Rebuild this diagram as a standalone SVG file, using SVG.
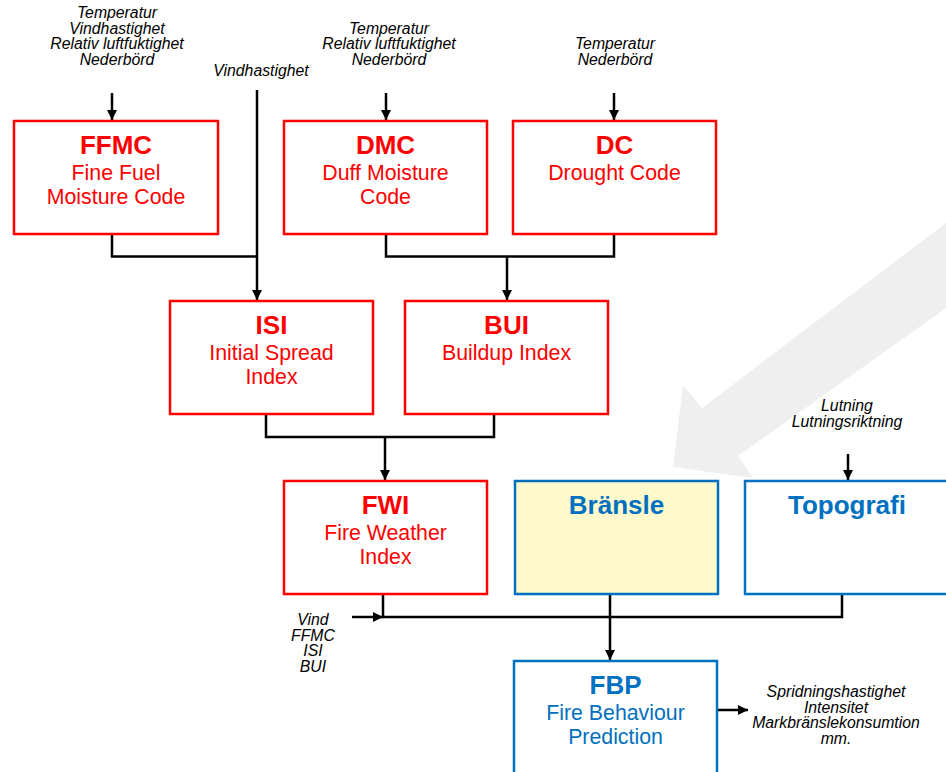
<svg xmlns="http://www.w3.org/2000/svg" width="946" height="772" viewBox="0 0 946 772">
<defs>
<marker id="ah" viewBox="0 0 10 10" refX="10" refY="5" markerWidth="10" markerHeight="10" markerUnits="userSpaceOnUse" orient="auto">
<path d="M0,0 L10,5 L0,10 Z" fill="#000"/>
</marker>
</defs>
<style>
.rb{fill:#fff;stroke:#FF0000;stroke-width:2.5}
.bb{fill:#fff;stroke:#0070C0;stroke-width:2.5}
.yb{fill:#FFF9CC;stroke:#0070C0;stroke-width:2.5}
.rt{font-family:"Liberation Sans",Arial,sans-serif;font-weight:bold;font-size:26px;fill:#FF0000;text-anchor:middle}
.rs{font-family:"Liberation Sans",Arial,sans-serif;font-size:21.3px;fill:#FF0000;text-anchor:middle}
.bt{font-family:"Liberation Sans",Arial,sans-serif;font-weight:bold;font-size:26px;fill:#0070C0;text-anchor:middle}
.bs{font-family:"Liberation Sans",Arial,sans-serif;font-size:21.3px;fill:#0070C0;text-anchor:middle}
.lb{font-family:"Liberation Sans",Arial,sans-serif;font-style:italic;font-size:15.8px;fill:#000;text-anchor:middle}
.c{fill:none;stroke:#000;stroke-width:2.5}
</style>
<rect width="946" height="772" fill="#fff"/>
<polygon id="bigarrow" points="946,223 702,408 683,385 673,467 753,478 738,456 946,308" fill="#EFEFEF"/>
<g id="labels">
<text class="lb"><tspan x="117" y="18">Temperatur</tspan><tspan x="117" y="33.5">Vindhastighet</tspan><tspan x="117" y="49">Relativ luftfuktighet</tspan><tspan x="117" y="64.5">Nederbörd</tspan></text>
<text class="lb" x="261" y="76">Vindhastighet</text>
<text class="lb"><tspan x="389" y="33.5">Temperatur</tspan><tspan x="389" y="49">Relativ luftfuktighet</tspan><tspan x="389" y="64.5">Nederbörd</tspan></text>
<text class="lb"><tspan x="615" y="49">Temperatur</tspan><tspan x="615" y="64.5">Nederbörd</tspan></text>
<text class="lb"><tspan x="847" y="411">Lutning</tspan><tspan x="847" y="426.5">Lutningsriktning</tspan></text>
<text class="lb"><tspan x="313" y="625">Vind</tspan><tspan x="313" y="640.5">FFMC</tspan><tspan x="313" y="656">ISI</tspan><tspan x="313" y="671.5">BUI</tspan></text>
<text class="lb"><tspan x="836" y="697">Spridningshastighet</tspan><tspan x="836" y="712.5">Intensitet</tspan><tspan x="836" y="728">Markbränslekonsumtion</tspan><tspan x="836" y="743.5">mm.</tspan></text>
</g>
<g id="connectors">
<line class="c" x1="112" y1="93" x2="112" y2="120" marker-end="url(#ah)"/>
<line class="c" x1="386" y1="93" x2="386" y2="120" marker-end="url(#ah)"/>
<line class="c" x1="614" y1="93" x2="614" y2="120" marker-end="url(#ah)"/>
<line class="c" x1="257" y1="90" x2="257" y2="300" marker-end="url(#ah)"/>
<polyline class="c" points="112,235 112,256.5 257,256.5"/>
<polyline class="c" points="386,235 386,256.5 614,256.5 614,235"/>
<line class="c" x1="507" y1="256.5" x2="507" y2="300" marker-end="url(#ah)"/>
<polyline class="c" points="266,415 266,437 494,437 494,415"/>
<line class="c" x1="385" y1="437" x2="385" y2="480" marker-end="url(#ah)"/>
<polyline class="c" points="383,595 383,617 842,617 842,595"/>
<line class="c" x1="352" y1="617" x2="383" y2="617" marker-end="url(#ah)"/>
<line class="c" x1="610" y1="595" x2="610" y2="660" marker-end="url(#ah)"/>
<line class="c" x1="717" y1="710" x2="748" y2="710" marker-end="url(#ah)"/>
<line class="c" x1="848" y1="454" x2="848" y2="480" marker-end="url(#ah)"/>
</g>
<g id="ffmc">
<rect class="rb" x="14" y="121" width="204" height="113"/>
<text class="rt" x="116" y="154">FFMC</text>
<text class="rs"><tspan x="116" y="180">Fine Fuel</tspan><tspan x="116" y="204">Moisture Code</tspan></text>
</g>
<g id="dmc">
<rect class="rb" x="284" y="121" width="203" height="113"/>
<text class="rt" x="385.5" y="154">DMC</text>
<text class="rs"><tspan x="385.5" y="180">Duff Moisture</tspan><tspan x="385.5" y="204">Code</tspan></text>
</g>
<g id="dc">
<rect class="rb" x="513" y="121" width="203" height="113"/>
<text class="rt" x="614.5" y="154">DC</text>
<text class="rs" x="614.5" y="180">Drought Code</text>
</g>
<g id="isi">
<rect class="rb" x="170" y="301" width="203" height="113"/>
<text class="rt" x="271.5" y="334">ISI</text>
<text class="rs"><tspan x="271.5" y="360">Initial Spread</tspan><tspan x="271.5" y="384">Index</tspan></text>
</g>
<g id="bui">
<rect class="rb" x="405" y="301" width="203" height="113"/>
<text class="rt" x="506.5" y="334">BUI</text>
<text class="rs" x="506.5" y="360">Buildup Index</text>
</g>
<g id="fwi">
<rect class="rb" x="284" y="481" width="203" height="113"/>
<text class="rt" x="385.5" y="514">FWI</text>
<text class="rs"><tspan x="385.5" y="540">Fire Weather</tspan><tspan x="385.5" y="564">Index</tspan></text>
</g>
<g id="bransle">
<rect class="yb" x="515" y="481" width="203" height="113"/>
<text class="bt" x="616.5" y="514">Bränsle</text>
</g>
<g id="topografi">
<rect class="bb" x="745" y="481" width="210" height="113"/>
<text class="bt" x="847" y="514">Topografi</text>
</g>
<g id="fbp">
<rect class="bb" x="514" y="661" width="203" height="120"/>
<text class="bt" x="615.5" y="694">FBP</text>
<text class="bs"><tspan x="615.5" y="720">Fire Behaviour</tspan><tspan x="615.5" y="744">Prediction</tspan></text>
</g>
</svg>
